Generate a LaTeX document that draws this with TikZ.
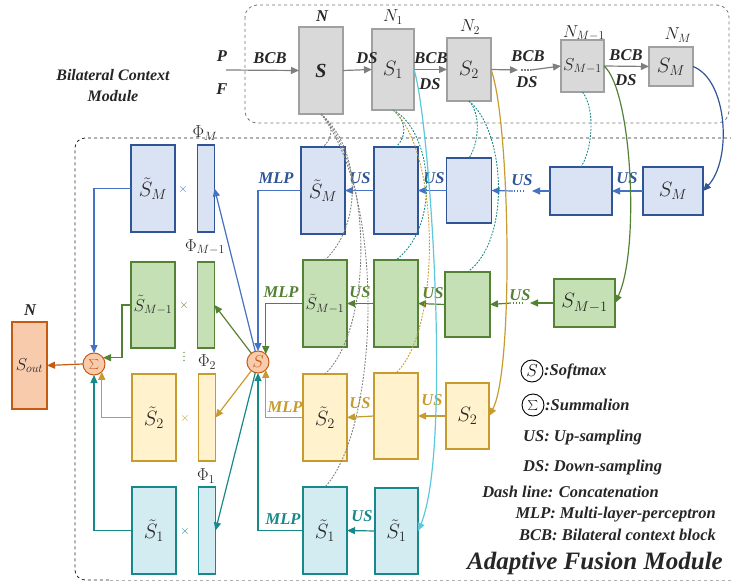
\documentclass[tikz,border=0pt]{standalone}
\usepackage{fontspec}
\setmainfont{Liberation Serif}
\usetikzlibrary{arrows.meta,calc}
\definecolor{bfill}{HTML}{DAE3F3}
\definecolor{bdraw}{HTML}{2F5597}
\definecolor{bline}{HTML}{4472C4}
\definecolor{gfill}{HTML}{C5E0B4}
\definecolor{gdraw}{HTML}{548235}
\definecolor{yfill}{HTML}{FFF2CC}
\definecolor{ydraw}{HTML}{C89B2E}
\definecolor{tfill}{HTML}{D3ECF2}
\definecolor{tdraw}{HTML}{17898A}
\definecolor{ofill}{HTML}{F8CBAD}
\definecolor{odraw}{HTML}{C55A11}
\definecolor{grfill}{HTML}{D9D9D9}
\definecolor{grdraw}{HTML}{A0A0A0}
\definecolor{grline}{HTML}{7F7F7F}
\definecolor{cyanl}{HTML}{5BC8DC}
\definecolor{txt}{HTML}{262626}
\newcommand\labfont{\fontsize{16.5}{18}\selectfont\bfseries\itshape}
\newcommand\mthfont{\fontsize{19.5}{21}\selectfont}
\newcommand\mthsmall{\fontsize{18}{20}\selectfont}
\newcommand\legfont{\fontsize{16.5}{18}\selectfont\bfseries\itshape}
\begin{document}
\begin{tikzpicture}[x=1pt,y=-1pt,
  bx/.style={draw, line width=1.1pt, inner sep=0pt, outer sep=0pt, text=txt},
  wh/.style 2 args={minimum width=#1pt, minimum height=#2pt},
  grb/.style={bx, fill=grfill, draw=grdraw},
  blb/.style={bx, fill=bfill, draw=bdraw},
  gnb/.style={bx, fill=gfill, draw=gdraw},
  ylb/.style={bx, fill=yfill, draw=ydraw},
  tlb/.style={bx, fill=tfill, draw=tdraw},
  orb/.style={bx, fill=ofill, draw=odraw},
  circ/.style={circle, draw=odraw, fill=ofill, line width=1pt, minimum size=22pt, inner sep=0pt, outer sep=0pt, text=odraw},
  lab/.style={font=\labfont, inner sep=0pt, text=txt},
  mth/.style={font=\mthsmall, inner sep=0pt, text=txt},
  leg/.style={font=\legfont, inner sep=0pt, text=txt},
  arr/.style={-{Triangle[length=8pt,width=7pt]}, line width=1.2pt},
  concat/.style={line width=0.9pt, dash pattern=on 1.8pt off 1.4pt},
  dotline/.style={line width=1.6pt, dash pattern=on 1.5pt off 1.5pt},
]
\useasboundingbox (0,0) rectangle (731,583);
% frames
\draw[dashed, black!55, line width=0.8pt, rounded corners=12pt] (245,5) rectangle (729,123);
\draw[dashed, black!85, line width=0.8pt, rounded corners=10pt] (745,138) -- (75,138) -- (75,580) -- (110,580);
\draw[dashed, black!30, line width=0.8pt] (110,580) -- (745,580);

% ---------- Bilateral context module ----------
\node[grb, wh={44}{87}] (gS) at (321,70.5) {\fontsize{20}{21}\selectfont\bfseries\itshape S};
\node[grb, wh={42}{81}, font=\mthfont] (gS1) at (393,69.5) {$S_1$};
\node[grb, wh={44}{63}, font=\mthfont] (gS2) at (469,69.5) {$S_2$};
\node[grb, wh={43}{52}, font=\fontsize{17}{18}\selectfont] (gSM1) at (582.5,66) {$S_{M-1}$};
\node[grb, wh={44}{39}, font=\mthfont] (gSM) at (671,66.5) {$S_M$};

\node[lab] (lN) at (322,16) {N};
\node[mth] (lN1) at (393,17) {$N_1$};
\node[mth] (lN2) at (470,27) {$N_2$};
\node[mth] (lNM1) at (584,33) {$N_{M-1}$};
\node[mth] (lNM) at (678,35) {$N_M$};
\node[lab] (lP) at (222,56) {P};
\node[lab] (lF) at (222,89) {F};
\node[lab] (t1) at (270,58) {BCB};
\node[lab] (t2) at (367,58) {DS};
\node[lab] (t3) at (431,58) {BCB};
\node[lab] (t4) at (430,84) {DS};
\node[lab] (t5) at (528,56) {BCB};
\node[lab] (t6) at (527,82) {DS};
\node[lab] (t7) at (626,55) {BCB};
\node[lab] (t8) at (626,80) {DS};
\node[font=\fontsize{16}{21}\selectfont\bfseries\itshape, align=center, inner sep=0pt, text=txt] (bcm) at (113,86) {Bilateral Context\\Module};

\coordinate (pf) at (226,70);
\coordinate (d1) at (518,70);
\coordinate (d2) at (521,70);
\coordinate (d3) at (531,70);
\draw[arr, grline] (pf) -- (gS.west);
\draw[arr, grline] (gS.east) -- (gS1.west);
\draw[arr, grline] (gS1.east) -- (gS2.west);
\draw[arr, grline] (gS2.east) -- (d1);
\draw[dotline, grline] (d2) -- (d3);
\draw[arr, grline] (d3) -- (gSM1.west);
\draw[arr, grline] (gSM1.east) -- (gSM.west);

% ---------- Adaptive fusion module: nodes ----------
% blue row
\node[blb, wh={44}{87}, font=\mthfont] (lbM) at (153,188.5) {$\tilde{S}_M$};
\node[blb, wh={17}{87}] (phM) at (206,188.5) {};
\node[blb, wh={44}{87}, font=\mthfont] (mbM) at (323,190.5) {$\tilde{S}_M$};
\node[blb, wh={44}{87}] (b2M) at (396,190.5) {};
\node[blb, wh={45}{65}] (b3M) at (469,190.5) {};
\node[blb, wh={62}{48}] (b4M) at (581,191) {};
\node[blb, wh={60}{48}, font=\mthfont] (sM) at (673,191) {$S_M$};
% green row
\node[gnb, wh={44}{86}, font=\mthsmall] (lbM1) at (153,305) {$\tilde{S}_{M-1}$};
\node[gnb, wh={17}{86}] (phM1) at (206,305) {};
\node[gnb, wh={44}{87}, font=\mthsmall] (mbM1) at (325,303.5) {$\tilde{S}_{M-1}$};
\node[gnb, wh={44}{87}] (b2M1) at (396,303.5) {};
\node[gnb, wh={45}{65}] (b3M1) at (467.5,304.5) {};
\node[gnb, wh={61}{48}, font=\mthfont] (sM1) at (584.5,303) {$S_{M-1}$};
% yellow row
\node[ylb, wh={44}{87}, font=\mthfont] (lb2) at (154,417.5) {$\tilde{S}_2$};
\node[ylb, wh={17}{87}] (ph2) at (207,417.5) {};
\node[ylb, wh={44}{87}, font=\mthfont] (mb2) at (325,417.5) {$\tilde{S}_2$};
\node[ylb, wh={44}{86}] (b22) at (396,416) {};
\node[ylb, wh={43}{66}, font=\mthfont] (s2) at (467.5,416) {$S_2$};
% teal row
\node[tlb, wh={44}{87}, font=\mthfont] (lb1) at (154,530.5) {$\tilde{S}_1$};
\node[tlb, wh={17}{87}] (ph1) at (207,530.5) {};
\node[tlb, wh={44}{87}, font=\mthfont] (mb1) at (325,530.5) {$\tilde{S}_1$};
\node[tlb, wh={43}{86}, font=\mthfont] (b21) at (396.5,531) {$\tilde{S}_1$};
% circles and output
\node[circ, font=\fontsize{16}{16}\selectfont] (sm) at (258,362) {$S$};
\node[circ, font=\fontsize{19}{19}\selectfont] (sum) at (94,364) {$\textstyle\sum$};
\node[orb, wh={35}{87}, font=\mthsmall] (sout) at (29.5,365.5) {$S_{out}$};
\node[lab] (lNo) at (30,310) {N};

% Phi labels, times signs
\node[mth] (pM) at (205,133) {$\Phi_M$};
\node[mth] (pM1) at (205,247) {$\Phi_{M-1}$};
\node[mth] (p2) at (207,362) {$\Phi_2$};
\node[mth] (p1) at (206,476) {$\Phi_1$};
\node[inner sep=0pt, text=bline, font=\fontsize{12}{12}\selectfont] (xM) at (183,190) {$\times$};
\node[inner sep=0pt, text=gdraw, font=\fontsize{12}{12}\selectfont] (xM1) at (184,305) {$\times$};
\node[inner sep=0pt, text=ydraw, font=\fontsize{12}{12}\selectfont] (x2) at (185,418) {$\times$};
\node[inner sep=0pt, text=tdraw, font=\fontsize{12}{12}\selectfont] (x1) at (185,531) {$\times$};
\node[inner sep=0pt, text=gdraw, font=\fontsize{12}{12}\selectfont] (vd) at (184,354) {$\vdots$};

% row labels
\node[lab, text=bdraw] (uM0) at (276,178) {MLP};
\node[lab, text=bdraw] (uM1) at (360,178) {US};
\node[lab, text=bdraw] (uM2) at (434,178) {US};
\node[lab, text=bdraw] (uM3) at (522,180) {US};
\node[lab, text=bdraw] (uM4) at (627,178) {US};
\node[lab, text=gdraw] (uG0) at (281,292) {MLP};
\node[lab, text=gdraw] (uG1) at (360,292) {US};
\node[lab, text=gdraw] (uG2) at (433,293) {US};
\node[lab, text=gdraw] (uG3) at (520,295) {US};
\node[lab, text=ydraw] (uY0) at (285,407) {MLP};
\node[lab, text=ydraw] (uY1) at (360,403) {US};
\node[lab, text=ydraw] (uY2) at (432,400) {US};
\node[lab, text=tdraw] (uT0) at (283,519) {MLP};
\node[lab, text=tdraw] (uT1) at (362,516) {US};

% ---------- row connectors ----------
\coordinate (bd1) at (532,191);
\coordinate (bd2) at (524,191);
\coordinate (bd3) at (513,191);
\draw[arr, bline] (sM.west) -- (b4M.east);
\draw[arr, bline] (b4M.west) -- (bd1);
\draw[dotline, bline] (bd2) -- (bd3);
\draw[arr, bline] (bd3) -- (b3M.east);
\draw[arr, bline] (b3M.west) -- (b2M.east);
\draw[arr, bline] (b2M.west) -- (mbM.east);
\draw[arr, bline] (mbM.west) -| (sm.north);

\coordinate (gd1) at (530,303);
\coordinate (gd2) at (523,303);
\coordinate (gd3) at (511,303);
\draw[arr, gdraw] (sM1.west) -- (gd1);
\draw[dotline, gdraw] (gd2) -- (gd3);
\draw[arr, gdraw] (gd3) -- (b3M1.east);
\draw[arr, gdraw] (b3M1.west) -- (b2M1.east);
\draw[arr, gdraw] (b2M1.west) -- (mbM1.east);
\draw[arr, gdraw] (mbM1.west) -| (sm.north east);

\draw[arr, ydraw] (s2.west) -- (b22.east);
\draw[arr, ydraw] (b22.west) -- (mb2.east);
\draw[arr, ydraw] (mb2.west) -| (sm.south east);

\draw[arr, tdraw] (b21.west) -- (mb1.east);
\draw[arr, tdraw] (mb1.west) -| (sm.south);

% softmax to weights
\draw[arr, bline] (sm) -- (phM.east);
\draw[arr, gdraw] (sm) -- (phM1.east);
\draw[arr, ydraw] (sm) -- (ph2.east);
\draw[arr, tdraw] (sm) -- (ph1.east);

% weighted features to summation
\draw[arr, bline] (lbM.west) -| (sum.north);
\draw[arr, gdraw] (lbM1.west) -- ++(-9,0) |- (sum.35);
\draw[arr, ydraw] (lb2.west) -| (sum.south east);
\draw[arr, tdraw] (lb1.west) -| (sum.south);
\draw[arr, odraw] (sum.west) -- (sout.east);

% ---------- long curves ----------
\draw[arr, bdraw] (gSM.east) .. controls (728,80) and (732,160) .. (sM.east);
\draw[arr, gdraw] (gSM1.east) .. controls (632,90) and (640,250) .. (sM1.east);
\draw[arr, ydraw] (gS2.east) .. controls (510,120) and (514,370) .. (s2.east);
\draw[arr, cyanl] (gS1.east) .. controls (430,120) and (452,450) .. (b21.east);

% ---------- concatenation ----------
\draw[concat, grline] (gS.south) .. controls (335,125) and (333,138) .. (mbM.north);
\draw[concat, grline] (gS.south) .. controls (362,150) and (362,225) .. (mbM1.north);
\draw[concat, grline] (gS.south) .. controls (375,170) and (372,330) .. (mb2.north);
\draw[concat, grline] (gS.south) .. controls (388,200) and (378,430) .. (mb1.north);
\draw[concat, tdraw] (gS1.south) .. controls (408,122) and (406,138) .. (b2M.north);
\draw[concat, tdraw] (gS1.south) .. controls (432,130) and (442,225) .. (b2M1.north);
\draw[concat, ydraw] (gS1.south) .. controls (440,150) and (442,330) .. (b22.north);
\draw[concat, tdraw] (gS2.south) .. controls (482,115) and (478,145) .. (b3M.north);
\draw[concat, tdraw] (gS2.south) .. controls (505,130) and (512,240) .. (b3M1.north);
\draw[concat, tdraw] (gSM1.south) .. controls (596,110) and (592,150) .. (b4M.north);

% ---------- legend ----------
\node[circle, draw=black, line width=0.9pt, minimum size=22pt, inner sep=0pt, font=\fontsize{16}{16}\selectfont] (lgS) at (532,371) {$S$};
\node[circle, draw=black, line width=0.9pt, minimum size=22pt, inner sep=0pt, font=\fontsize{19}{19}\selectfont] (lgSum) at (533,405) {$\textstyle\sum$};
\node[leg, anchor=west] (lg1) at (544,371) {:Softmax};
\node[leg, anchor=west] (lg2) at (545,405) {:Summalion};
\node[leg, anchor=west] (lg3) at (523,438) {US: Up-sampling};
\node[leg, anchor=west] (lg4) at (523,468) {DS: Down-sampling};
\node[leg, anchor=east] (lg5) at (659,492) {Dash line: Concatenation};
\node[leg, anchor=east] (lg6) at (716,515) {MLP: Multi-layer-perceptron};
\node[leg, anchor=east] (lg7) at (716,535) {BCB: Bilateral context block};
\node[font=\fontsize{25}{27}\selectfont\bfseries\itshape, inner sep=0pt, anchor=east, text=txt] (afm) at (723,563) {Adaptive Fusion Module};
\end{tikzpicture}
\end{document}
